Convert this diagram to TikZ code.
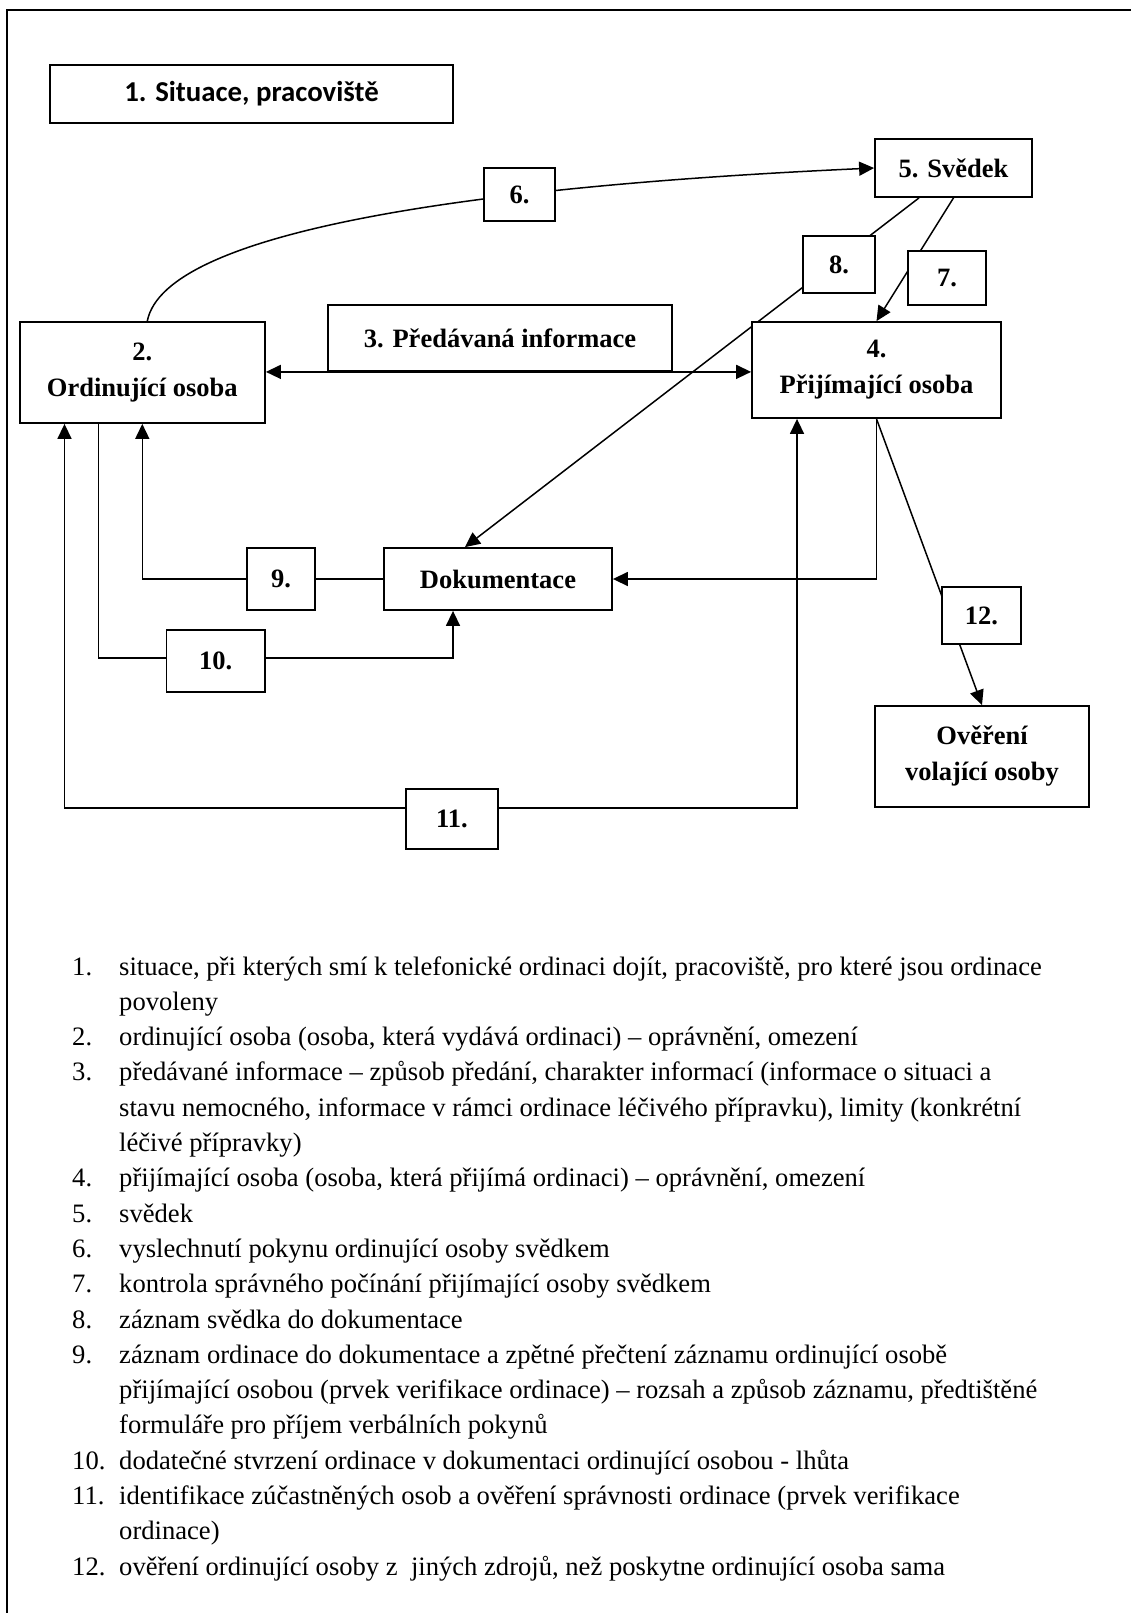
\documentclass[tikz,border=0pt]{standalone}
\usepackage{fontspec}
\setmainfont{Liberation Serif}
\newfontfamily\calibrifont{Carlito}
\usetikzlibrary{arrows.meta,backgrounds,calc}
\begin{document}
\begin{tikzpicture}[x=1pt,y=-1pt,
  bx/.style={draw,line width=1.8pt,fill=white,inner sep=0pt,align=center,
     font=\fontsize{26.5}{36}\selectfont\bfseries},
  ln/.style={line width=1.5pt},
  arr/.style={ln,-{Triangle[length=15pt,width=14pt]}},
  darr/.style={ln,{Triangle[length=15pt,width=14pt]}-{Triangle[length=15pt,width=14pt]}},
  lst/.style={anchor=base west,inner sep=0pt,font=\fontsize{26.6}{35}\selectfont}]
\useasboundingbox (0,0) rectangle (1131,1613);
\draw[line width=2pt] (1140,10) -- (7,10) -- (7,1625);

% boxes
\node[bx,minimum width=403pt,minimum height=58pt,font=\calibrifont\fontsize{28.8}{34}\selectfont\bfseries] (b1) at (251.5,94) {1. Situace, pracoviště};
\node[bx,minimum width=245.4pt,minimum height=101pt] (b2) at (142.3,372.5) {2.\\Ordinující osoba};
\node[bx,minimum width=344pt,minimum height=66pt] (b3) at (500,338) {3. Předávaná informace};
\node[bx,minimum width=249pt,minimum height=96pt] (b4) at (876.5,370) {4.\\Přijímající osoba};
\node[bx,minimum width=157pt,minimum height=58pt] (b5) at (953.5,168) {5. Svědek};
\node[bx,minimum width=71pt,minimum height=53pt] (b6) at (519.5,194.5) {6.};
\node[bx,minimum width=78pt,minimum height=54pt] (b7) at (947,278) {7.};
\node[bx,minimum width=72pt,minimum height=57pt] (b8) at (839,264.5) {8.};
\node[bx,minimum width=68pt,minimum height=62pt] (b9) at (281,579) {9.};
\node[bx,minimum width=228pt,minimum height=62pt] (dok) at (498,579) {Dokumentace};
\node[bx,minimum width=98.5pt,minimum height=62pt] (b10) at (215.75,661) {10.};
\node[bx,minimum width=92pt,minimum height=60pt] (b11) at (452,819) {11.};
\node[bx,minimum width=79pt,minimum height=57pt] (b12) at (981.5,615.5) {12.};
\node[bx,minimum width=214pt,minimum height=101pt] (ov) at (982,756.5) {Ověření\\volající osoby};

% connectors
\begin{pgfonlayer}{background}
\draw[arr] ([xshift=5pt]b2.north) .. controls (165,230) and (480,186) .. (b5.west);
\draw[darr] (b2.east |- b3.south) -- (b4.west |- b3.south);
\draw[arr] ([xshift=-34.5pt]b5.south) -- ([xshift=-33pt]dok.north);
\draw[arr] (b5.south) -- (b4.north);
\draw[arr] (dok.west) -| (b2.south);
\coordinate (c10) at (453,658);
\draw[arr] ([xshift=-44pt]b2.south) |- (c10) -- (c10 |- dok.south);
\coordinate (c11) at (452,808);
\draw[darr] ([xshift=-77.8pt]b2.south) |- (c11) -| ([xshift=-79.5pt]b4.south);
\draw[arr] (b4.south) |- (dok.east);
\draw[arr] (b4.south) -- (ov.north);
\end{pgfonlayer}

% legend list
\foreach \k/\lbl in {0/1., 2/2., 3/3., 6/4., 7/5., 8/6., 9/7., 10/8., 11/9., 14/10., 15/11., 17/12.}
  \node[lst] (N\k) at (72,975+35.3*\k) {\lbl};
\foreach \k/\txt in {
  0/{situace, při kterých smí k telefonické ordinaci dojít, pracoviště, pro které jsou ordinace},
  1/{povoleny},
  2/{ordinující osoba (osoba, která vydává ordinaci) – oprávnění, omezení},
  3/{předávané informace – způsob předání, charakter informací (informace o situaci a},
  4/{stavu nemocného, informace v rámci ordinace léčivého přípravku), limity (konkrétní},
  5/{léčivé přípravky)},
  6/{přijímající osoba (osoba, která přijímá ordinaci) – oprávnění, omezení},
  7/{svědek},
  8/{vyslechnutí pokynu ordinující osoby svědkem},
  9/{kontrola správného počínání přijímající osoby svědkem},
  10/{záznam svědka do dokumentace},
  11/{záznam ordinace do dokumentace a zpětné přečtení záznamu ordinující osobě},
  12/{přijímající osobou (prvek verifikace ordinace) – rozsah a způsob záznamu, předtištěné},
  13/{formuláře pro příjem verbálních pokynů},
  14/{dodatečné stvrzení ordinace v dokumentaci ordinující osobou - lhůta},
  15/{identifikace zúčastněných osob a ověření správnosti ordinace (prvek verifikace},
  16/{ordinace)},
  17/{ověření ordinující osoby z\ \ jiných zdrojů, než poskytne ordinující osoba sama}}
  \node[lst] (L\k) at (119,975+35.3*\k) {\txt};
\end{tikzpicture}
\end{document}
